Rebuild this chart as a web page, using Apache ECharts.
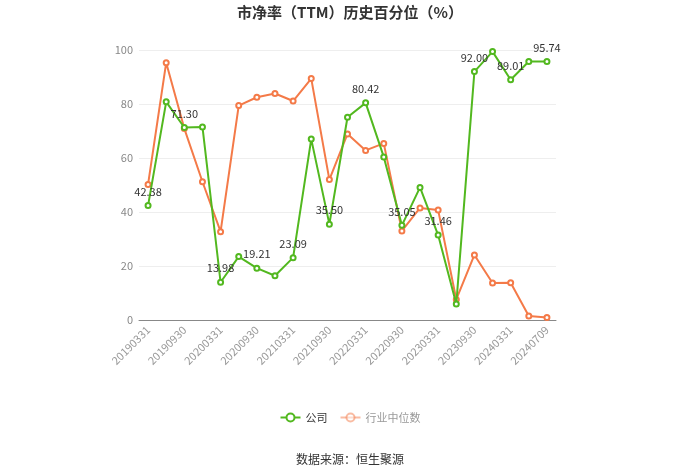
<!DOCTYPE html>
<html>
<head>
<meta charset="utf-8">
<script src="https://cdn.jsdelivr.net/npm/echarts@6/dist/echarts.min.js"></script>
<style>html,body{margin:0;padding:0;background:#fff;}#c{width:700px;height:474px;}</style>
</head>
<body>
<div id="c"></div>
<script>
var categories = ['20190331','20190630','20190930','20191231','20200331','20200630','20200930','20201231','20210331','20210630','20210930','20211231','20220331','20220630','20220930','20221231','20230331','20230630','20230930','20231231','20240331','20240630','20240709'];
var companyValues = [42.38,80.8,71.30,71.5,13.98,23.5,19.21,16.4,23.09,67.0,35.50,75.1,80.42,60.4,35.05,49.1,31.46,5.9,92.00,99.4,89.01,95.74,95.74];
var industryValues = [50.2,95.3,70.9,51.2,32.7,79.4,82.5,83.9,81.1,89.4,52.0,68.9,62.8,65.4,33.0,41.5,40.7,7.6,24.1,13.7,13.8,1.5,0.9];
var yTicks = [0,20,40,60,80,100];

var font = '"Noto Sans CJK SC", "Noto Sans", sans-serif';
var chart = echarts.init(document.getElementById('c'));
chart.setOption({
  animation: false,
  textStyle: {fontFamily: font},
  title: [{
    text: '市净率（TTM）历史百分位（%）',
    left: 'center', top: 0,
    textStyle: {fontSize: 15, fontWeight: 'bold', color: '#333', fontFamily: font}
  }, {
    text: '数据来源：恒生聚源',
    left: 'center', top: 448,
    textStyle: {fontSize: 12, fontWeight: 'normal', color: '#333', fontFamily: font}
  }],
  legend: {
    left: 'center', top: 407,
    itemWidth: 20, itemHeight: 10, itemGap: 12,
    textStyle: {fontSize: 11, color: '#333'},
    data: [
      {name: '公司'},
      {name: '行业中位数', itemStyle: {opacity: 0.5}, lineStyle: {opacity: 0.5}, textStyle: {color: '#999'}}
    ]
  },
  grid: {left: 139, right: 144, top: 50, bottom: 154},
  xAxis: {
    type: 'category',
    data: categories,
    boundaryGap: true,
    axisLine: {lineStyle: {color: '#888'}},
    axisTick: {alignWithLabel: true, interval: 1, lineStyle: {color: '#888'}},
    axisLabel: {interval: 1, rotate: 45, fontSize: 11, color: '#999', margin: 8}
  },
  yAxis: {
    type: 'value',
    min: yTicks[0], max: yTicks[yTicks.length - 1], interval: 20,
    axisLine: {show: false},
    axisTick: {show: false},
    axisLabel: {fontSize: 11, color: '#888', margin: 6},
    splitLine: {lineStyle: {color: '#eee'}}
  },
  series: [{
    name: '公司',
    type: 'line',
    data: companyValues,
    symbol: 'emptyCircle', symbolSize: 5,
    itemStyle: {color: '#52b81f'},
    lineStyle: {width: 2, color: '#52b81f'},
    label: {
      show: true, position: 'top', fontSize: 11, color: '#333',
      formatter: function (p) { return p.dataIndex % 2 === 0 ? p.value.toFixed(2) : ''; }
    },
    z: 3
  }, {
    name: '行业中位数',
    type: 'line',
    data: industryValues,
    symbol: 'emptyCircle', symbolSize: 5,
    itemStyle: {color: '#f47a48'},
    lineStyle: {width: 2, color: '#f47a48'},
    z: 2
  }]
});
</script>
</body>
</html>
